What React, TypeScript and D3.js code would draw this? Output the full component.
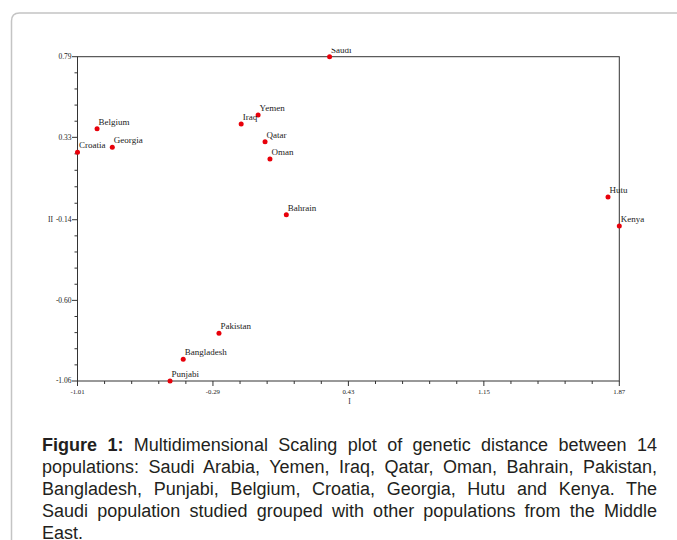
import React, { useEffect, useRef } from 'react';
import * as d3 from 'd3';

const populations = ['Saudi', 'Yemen', 'Iraq', 'Qatar', 'Oman', 'Bahrain', 'Belgium', 'Georgia', 'Croatia', 'Hutu', 'Kenya', 'Pakistan', 'Bangladesh', 'Punjabi'];
const dimI = [0.33, -0.05, -0.14, -0.013, 0.013, 0.1, -0.906, -0.825, -1.01, 1.81, 1.87, -0.258, -0.448, -0.518];
const dimII = [0.79, 0.457, 0.406, 0.305, 0.206, -0.111, 0.379, 0.273, 0.245, -0.01, -0.176, -0.788, -0.936, -1.06];

const xTicks = [-1.01, -0.29, 0.43, 1.15, 1.87];
const xTickLabels = ['-1.01', '-0.29', '0.43', '1.15', '1.87'];
const yTicks = [0.79, 0.33, -0.14, -0.6, -1.06];
const yTickLabels = ['0.79', '0.33', '-0.14', '-0.60', '-1.06'];

const captionBold = 'Figure 1:';
const captionLines = [
  ' Multidimensional Scaling plot of genetic distance between 14',
  'populations: Saudi Arabia, Yemen, Iraq, Qatar, Oman, Bahrain, Pakistan,',
  'Bangladesh, Punjabi, Belgium, Croatia, Georgia, Hutu and Kenya. The',
  'Saudi population studied grouped with other populations from the Middle',
  'East.',
];

const W = 677;
const H = 540;

export default function App() {
  const capRef = useRef<SVGGElement | null>(null);

  const x = d3.scaleLinear().domain([-1.01, 1.87]).range([77.5, 619.3]);
  const y = d3.scaleLinear().domain([-1.06, 0.79]).range([381, 56.7]);

  useEffect(() => {
    if (!capRef.current) return;
    const left = 42;
    const right = 657;
    d3.select(capRef.current)
      .selectAll<SVGTextElement, unknown>('text.just')
      .each(function () {
        const el = this;
        el.setAttribute('word-spacing', '0');
        const w = el.getComputedTextLength();
        const txt = el.textContent || '';
        const spaces = (txt.match(/ /g) || []).length;
        if (spaces > 0) {
          const extra = (right - left - w) / spaces;
          el.setAttribute('word-spacing', String(extra));
        }
      });
  }, []);

  const minorX: number[] = [];
  for (let i = 0; i < xTicks.length - 1; i++) {
    const a = xTicks[i], b = xTicks[i + 1];
    for (let k = 1; k < 5; k++) minorX.push(a + ((b - a) * k) / 5);
  }
  const minorY: number[] = [];
  for (let i = 0; i < yTicks.length - 1; i++) {
    const a = yTicks[i], b = yTicks[i + 1];
    for (let k = 1; k < 5; k++) minorY.push(a + ((b - a) * k) / 5);
  }

  const x0 = x(-1.01), x1 = x(1.87), y0 = y(-1.06), y1 = y(0.79);
  const axisColor = '#333';
  const serif = '"Liberation Serif", "DejaVu Serif", serif';
  const sans = '"Liberation Sans", Arial, sans-serif';

  return (
    <svg width={W} height={H} style={{ position: 'absolute', left: 0, top: 0, background: '#fff' }}>
      <defs>
        <clipPath id="topclip">
          <rect x={0} y={48.5} width={W} height={H} />
        </clipPath>
      </defs>
      <path d={`M11.5,${H + 20} L11.5,21 Q11.5,13 19.5,13 L${W + 20},13`} fill="none" stroke="#c4c4c4" strokeWidth={1.5} />

      {/* frame */}
      <rect x={x0} y={y1} width={x1 - x0} height={y0 - y1} fill="none" stroke={axisColor} strokeWidth={1} />

      {/* x ticks */}
      {xTicks.map((t, i) => (
        <g key={'xt' + i}>
          <line x1={x(t)} x2={x(t)} y1={y0} y2={y0 + 5} stroke={axisColor} strokeWidth={1} />
          <text x={x(t)} y={y0 + 13} textAnchor="middle" fontFamily={serif} fontSize={6.8} fill="#222">{xTickLabels[i]}</text>
        </g>
      ))}
      {minorX.map((t, i) => (
        <line key={'xm' + i} x1={x(t)} x2={x(t)} y1={y0} y2={y0 + 3} stroke={axisColor} strokeWidth={1} />
      ))}

      {/* y ticks */}
      {yTicks.map((t, i) => (
        <g key={'yt' + i}>
          <line x1={x0 - 5.5} x2={x0} y1={y(t)} y2={y(t)} stroke={axisColor} strokeWidth={1} />
          <text x={x0 - 6} y={y(t) + 2.3} textAnchor="end" fontFamily={serif} fontSize={7.5} fill="#222">{yTickLabels[i]}</text>
        </g>
      ))}
      {minorY.map((t, i) => (
        <line key={'ym' + i} x1={x0 - 3} x2={x0} y1={y(t)} y2={y(t)} stroke={axisColor} strokeWidth={1} />
      ))}

      {/* axis titles */}
      <text x={50.5} y={222} textAnchor="middle" fontFamily={serif} fontSize={7.5} fill="#222">II</text>
      <text x={(x0 + x1) / 2 + 1} y={404} textAnchor="middle" fontFamily={serif} fontSize={7.5} fill="#222">I</text>

      {/* points */}
      {populations.map((p, i) => (
        <g key={p}>
          <circle cx={x(dimI[i])} cy={y(dimII[i])} r={2.5} fill="#e8000a" />
          <text
            x={x(dimI[i]) + 1.5}
            y={y(dimII[i]) - 4}
            fontFamily={serif}
            fontSize={9}
            fill="#222"
            clipPath={p === 'Saudi' ? 'url(#topclip)' : undefined}
          >
            {p}
          </text>
        </g>
      ))}

      {/* caption */}
      <g ref={capRef} fontFamily={sans} fontSize={18} fill="#231f20">
        {captionLines.map((line, i) => (
          <text key={'c' + i} className={i < captionLines.length - 1 ? 'just' : ''} x={42} y={451 + i * 22}>
            {i === 0 && <tspan fontWeight="bold">{captionBold}</tspan>}
            {line}
          </text>
        ))}
      </g>
    </svg>
  );
}
